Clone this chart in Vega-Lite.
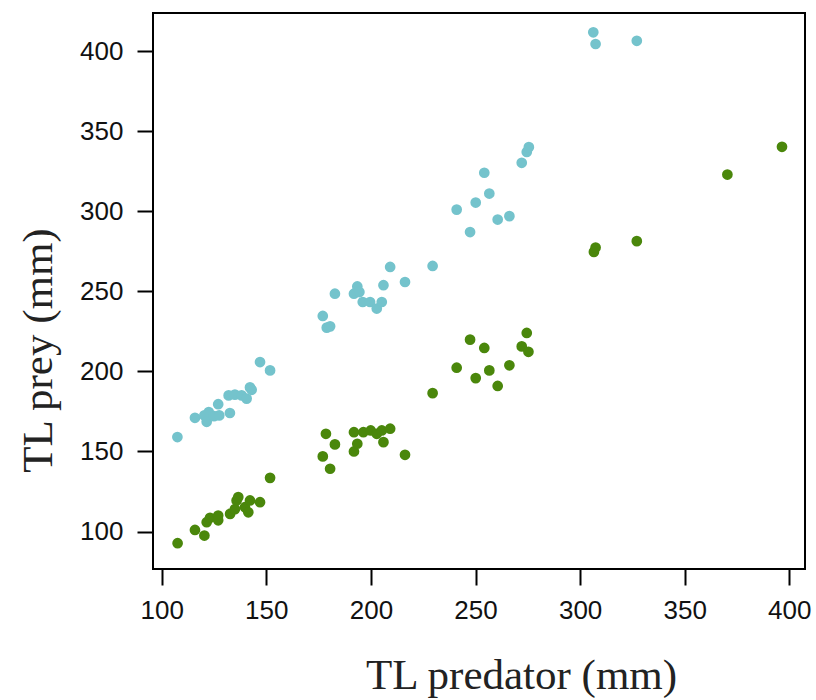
{
  "$schema": "https://vega.github.io/schema/vega-lite/v6.json",
  "autosize": "none",
  "padding": {"left": 153, "top": 13, "right": 11, "bottom": 131},
  "width": 652,
  "height": 556,
  "background": "white",
  "config": {
    "view": {"stroke": "black", "strokeWidth": 2},
    "axis": {
      "grid": false,
      "domain": false,
      "ticks": true,
      "tickColor": "black",
      "tickWidth": 2,
      "tickSize": 16,
      "labelFont": "Liberation Sans",
      "labelFontSize": 26,
      "labelColor": "#111111",
      "titleFont": "Liberation Serif",
      "titleFontWeight": "normal",
      "titleFontSize": 43,
      "titleColor": "#222222"
    }
  },
  "data": {
    "values": [
      {"pred": 107.5, "prey": 159, "group": "A"},
      {"pred": 115.9, "prey": 171, "group": "A"},
      {"pred": 120.4, "prey": 172.5, "group": "A"},
      {"pred": 121.5, "prey": 168.5, "group": "A"},
      {"pred": 122.5, "prey": 174.6, "group": "A"},
      {"pred": 125, "prey": 172, "group": "A"},
      {"pred": 127, "prey": 179.5, "group": "A"},
      {"pred": 127.5, "prey": 172.5, "group": "A"},
      {"pred": 132.6, "prey": 174, "group": "A"},
      {"pred": 132, "prey": 185, "group": "A"},
      {"pred": 135, "prey": 185.5, "group": "A"},
      {"pred": 138.2, "prey": 185, "group": "A"},
      {"pred": 140.6, "prey": 183, "group": "A"},
      {"pred": 142.2, "prey": 190, "group": "A"},
      {"pred": 143, "prey": 188.5, "group": "A"},
      {"pred": 147, "prey": 205.8, "group": "A"},
      {"pred": 151.8, "prey": 200.6, "group": "A"},
      {"pred": 177, "prey": 234.6, "group": "A"},
      {"pred": 178.9, "prey": 227.3, "group": "A"},
      {"pred": 180.5, "prey": 228.1, "group": "A"},
      {"pred": 182.8, "prey": 248.5, "group": "A"},
      {"pred": 191.9, "prey": 248.5, "group": "A"},
      {"pred": 193.5, "prey": 253, "group": "A"},
      {"pred": 194.5, "prey": 249.5, "group": "A"},
      {"pred": 196.1, "prey": 243.3, "group": "A"},
      {"pred": 199.6, "prey": 243.3, "group": "A"},
      {"pred": 202.8, "prey": 239.2, "group": "A"},
      {"pred": 205.2, "prey": 243.3, "group": "A"},
      {"pred": 206, "prey": 253.8, "group": "A"},
      {"pred": 209.2, "prey": 265.2, "group": "A"},
      {"pred": 216.3, "prey": 255.8, "group": "A"},
      {"pred": 229.5, "prey": 265.8, "group": "A"},
      {"pred": 241, "prey": 301, "group": "A"},
      {"pred": 247.4, "prey": 287, "group": "A"},
      {"pred": 250.1, "prey": 305.4, "group": "A"},
      {"pred": 254.2, "prey": 324, "group": "A"},
      {"pred": 256.6, "prey": 311, "group": "A"},
      {"pred": 260.6, "prey": 294.8, "group": "A"},
      {"pred": 266.2, "prey": 296.9, "group": "A"},
      {"pred": 272.1, "prey": 330.2, "group": "A"},
      {"pred": 274.5, "prey": 337, "group": "A"},
      {"pred": 275.5, "prey": 340, "group": "A"},
      {"pred": 306.3, "prey": 411.7, "group": "A"},
      {"pred": 307.4, "prey": 404.4, "group": "A"},
      {"pred": 327.1, "prey": 406.4, "group": "A"},
      {"pred": 107.6, "prey": 92.7, "group": "B"},
      {"pred": 115.9, "prey": 101, "group": "B"},
      {"pred": 120.4, "prey": 97.5, "group": "B"},
      {"pred": 121.5, "prey": 105.8, "group": "B"},
      {"pred": 123.1, "prey": 108.6, "group": "B"},
      {"pred": 127, "prey": 110, "group": "B"},
      {"pred": 127, "prey": 107, "group": "B"},
      {"pred": 132.7, "prey": 111, "group": "B"},
      {"pred": 135, "prey": 114, "group": "B"},
      {"pred": 135.8, "prey": 119.4, "group": "B"},
      {"pred": 136.6, "prey": 121.5, "group": "B"},
      {"pred": 139.8, "prey": 115.2, "group": "B"},
      {"pred": 141.4, "prey": 112, "group": "B"},
      {"pred": 142.2, "prey": 119.4, "group": "B"},
      {"pred": 147, "prey": 118.3, "group": "B"},
      {"pred": 151.8, "prey": 133.5, "group": "B"},
      {"pred": 177, "prey": 146.9, "group": "B"},
      {"pred": 178.5, "prey": 161, "group": "B"},
      {"pred": 180.5, "prey": 139.2, "group": "B"},
      {"pred": 182.8, "prey": 154.4, "group": "B"},
      {"pred": 191.9, "prey": 150, "group": "B"},
      {"pred": 191.9, "prey": 162, "group": "B"},
      {"pred": 193.5, "prey": 154.8, "group": "B"},
      {"pred": 196.4, "prey": 162, "group": "B"},
      {"pred": 199.9, "prey": 163.1, "group": "B"},
      {"pred": 202.8, "prey": 161, "group": "B"},
      {"pred": 205.2, "prey": 163.1, "group": "B"},
      {"pred": 206, "prey": 155.8, "group": "B"},
      {"pred": 209.2, "prey": 164.2, "group": "B"},
      {"pred": 216.3, "prey": 147.9, "group": "B"},
      {"pred": 229.5, "prey": 186.4, "group": "B"},
      {"pred": 241, "prey": 202.3, "group": "B"},
      {"pred": 247.4, "prey": 219.8, "group": "B"},
      {"pred": 250.1, "prey": 195.8, "group": "B"},
      {"pred": 254.2, "prey": 214.6, "group": "B"},
      {"pred": 256.6, "prey": 200.6, "group": "B"},
      {"pred": 260.6, "prey": 190.9, "group": "B"},
      {"pred": 266.2, "prey": 203.8, "group": "B"},
      {"pred": 272.1, "prey": 215.6, "group": "B"},
      {"pred": 274.5, "prey": 224, "group": "B"},
      {"pred": 275.3, "prey": 212.2, "group": "B"},
      {"pred": 306.6, "prey": 274.6, "group": "B"},
      {"pred": 307.4, "prey": 277.3, "group": "B"},
      {"pred": 327.1, "prey": 281.3, "group": "B"},
      {"pred": 370.4, "prey": 322.9, "group": "B"},
      {"pred": 396.5, "prey": 340.2, "group": "B"}
    ]
  },
  "mark": {"type": "circle", "size": 115, "opacity": 1},
  "encoding": {
    "x": {
      "field": "pred",
      "type": "quantitative",
      "scale": {"domain": [95.84, 407.5], "nice": false, "zero": false},
      "axis": {"values": [100, 150, 200, 250, 300, 350, 400], "title": "TL predator (mm)", "labelPadding": 12, "titleX": 368, "titleY": 106, "titleBaseline": "middle"}
    },
    "y": {
      "field": "prey",
      "type": "quantitative",
      "scale": {"domain": [76.6, 423.75], "nice": false, "zero": false},
      "axis": {"values": [100, 150, 200, 250, 300, 350, 400], "title": "TL prey (mm)", "labelPadding": 14, "titleX": -115, "titleY": 337, "titleBaseline": "middle"}
    },
    "color": {
      "field": "group",
      "type": "nominal",
      "scale": {"domain": ["A", "B"], "range": ["#74C3CC", "#4A870B"]},
      "legend": null
    }
  }
}
